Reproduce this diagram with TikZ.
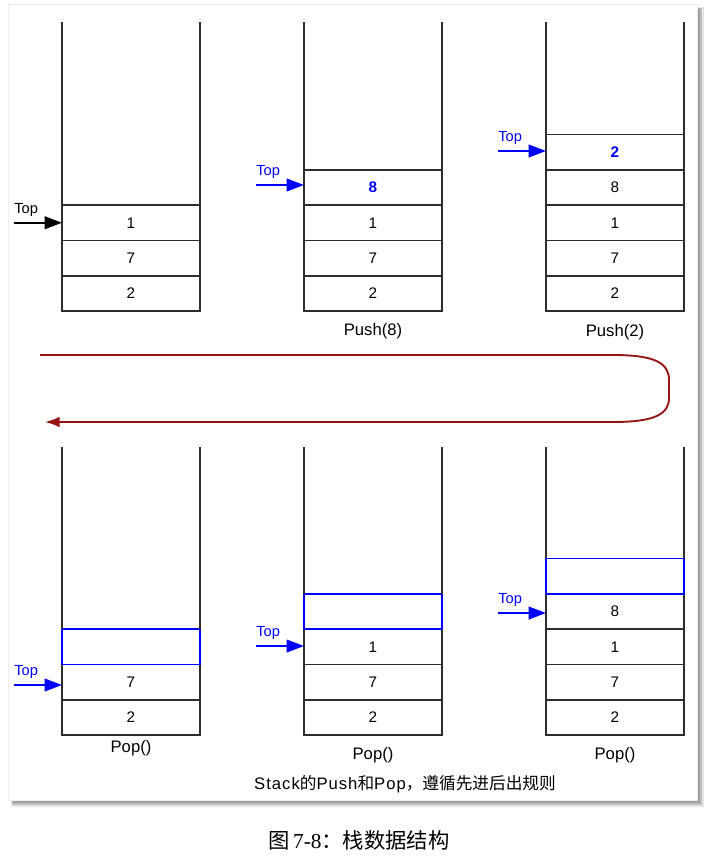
\documentclass[tikz,border=0pt]{standalone}
\usepackage{fontspec}
\setmainfont{Liberation Sans}
\newfontfamily\cjk{Noto Sans CJK SC}
\newfontfamily\capserif{Liberation Serif}
\usetikzlibrary{arrows.meta}
\definecolor{linegray}{RGB}{45,45,45}
\definecolor{loopred}{RGB}{150,20,20}
\definecolor{pureblue}{RGB}{0,0,255}
\begin{document}
\begin{tikzpicture}[x=0.75pt,y=-0.75pt,
  cell/.style={draw=linegray, line width=1.3pt, minimum width=103.5pt, minimum height=26.5pt,
    inner sep=0pt, outer sep=0pt, font=\fontsize{11.5}{13}\selectfont},
  popbox/.style={cell, draw=pureblue},
  hot/.style={text=pureblue, font=\fontsize{11.5}{13}\selectfont\bfseries},
  wall/.style={draw=linegray, line width=1.3pt},
  ptr/.style={-{Triangle[length=13pt,width=9.5pt]}, line width=1.3pt},
  toplbl/.style={anchor=south west, inner sep=0pt, font=\fontsize{11}{12}\selectfont},
  oplbl/.style={inner sep=0pt, font=\fontsize{12.5}{14}\selectfont}]
\useasboundingbox (0,0) rectangle (709,858);
% panel with shadow
\fill[black!10] (11,7) rectangle (704,807);
\fill[black!25] (12,8) rectangle (702,805);
\fill[black!38] (13,9) rectangle (700,803);
\fill[white, draw=black!7] (8,4) rectangle (697,800);

% ---------- top row ----------
% stack 1
\node[cell] (a1) at (131,293.35) {2};
\node[cell] (a2) at (131,258.05) {7};
\node[cell] (a3) at (131,222.75) {1};
\coordinate (a1l) at (62,22); \coordinate (a1r) at (200,22);
\draw[wall] (a1l) -- (a1l |- a3.north); \draw[wall] (a1r) -- (a1r |- a3.north);
\coordinate (ta) at (14,222.75);
\draw[ptr, black] (ta) -- (a3.west);
\node[toplbl] (tla) at (14,217) {Top};

% stack 2
\node[cell] (b1) at (373,293.35) {2};
\node[cell] (b2) at (373,258.05) {7};
\node[cell] (b3) at (373,222.75) {1};
\node[cell,hot] (b4) at (373,187.45) {8};
\coordinate (b1l) at (304,22); \coordinate (b1r) at (442,22);
\draw[wall] (b1l) -- (b1l |- b4.north); \draw[wall] (b1r) -- (b1r |- b4.north);
\coordinate (tb) at (256,185);
\draw[ptr, pureblue] (tb) -- (tb -| b4.west);
\node[toplbl, text=pureblue] (tlb) at (256,179) {Top};
\node[oplbl] (pb) at (373,331) {Push(8)};

% stack 3
\node[cell] (c1) at (615,293.35) {2};
\node[cell] (c2) at (615,258.05) {7};
\node[cell] (c3) at (615,222.75) {1};
\node[cell] (c4) at (615,187.45) {8};
\node[cell,hot] (c5) at (615,152.15) {2};
\coordinate (c1l) at (546,22); \coordinate (c1r) at (684,22);
\draw[wall] (c1l) -- (c1l |- c5.north); \draw[wall] (c1r) -- (c1r |- c5.north);
\coordinate (tc) at (498,151);
\draw[ptr, pureblue] (tc) -- (tc -| c5.west);
\node[toplbl, text=pureblue] (tlc) at (498,145) {Top};
\node[oplbl] (pc) at (615,332) {Push(2)};

% ---------- loop arrow ----------
\coordinate (ls) at (40,355);
\coordinate (le) at (45,422);
\draw[loopred, line width=1.4pt, -{Latex[length=11pt,width=8pt]}]
  (ls) -- (613,355) .. controls (655,355) and (669,363) .. (669,380)
  -- (669,398) .. controls (669,414) and (655,422) .. (613,422) -- (le);

% ---------- bottom row ----------
% stack 1
\node[cell] (d1) at (131,717.35) {2};
\node[cell] (d2) at (131,682.05) {7};
\node[popbox] (d3) at (131,646.75) {};
\coordinate (d1l) at (62,447); \coordinate (d1r) at (200,447);
\draw[wall] (d1l) -- (d1l |- d3.north); \draw[wall] (d1r) -- (d1r |- d3.north);
\coordinate (td) at (14,685);
\draw[ptr, pureblue] (td) -- (td -| d2.west);
\node[toplbl, text=pureblue] (tld) at (14,679) {Top};
\node[oplbl] (pd) at (131,748) {Pop()};

% stack 2
\node[cell] (e1) at (373,717.35) {2};
\node[cell] (e2) at (373,682.05) {7};
\node[cell] (e3) at (373,646.75) {1};
\node[popbox] (e4) at (373,611.45) {};
\coordinate (e1l) at (304,447); \coordinate (e1r) at (442,447);
\draw[wall] (e1l) -- (e1l |- e4.north); \draw[wall] (e1r) -- (e1r |- e4.north);
\coordinate (te) at (256,646);
\draw[ptr, pureblue] (te) -- (te -| e3.west);
\node[toplbl, text=pureblue] (tle) at (256,640) {Top};
\node[oplbl] (pe) at (373,755) {Pop()};

% stack 3
\node[cell] (f1) at (615,717.35) {2};
\node[cell] (f2) at (615,682.05) {7};
\node[cell] (f3) at (615,646.75) {1};
\node[cell] (f4) at (615,611.45) {8};
\node[popbox] (f5) at (615,576.15) {};
\coordinate (f1l) at (546,447); \coordinate (f1r) at (684,447);
\draw[wall] (f1l) -- (f1l |- f5.north); \draw[wall] (f1r) -- (f1r |- f5.north);
\coordinate (tf) at (498,613);
\draw[ptr, pureblue] (tf) -- (tf -| f4.west);
\node[toplbl, text=pureblue] (tlf) at (498,607) {Top};
\node[oplbl] (pf) at (615,755) {Pop()};

% captions
\node[inner sep=0pt, font=\fontsize{12.5}{14}\selectfont] (cap1) at (405,784)
  {{\addfontfeature{LetterSpace=6}Stack}{\cjk 的}{\addfontfeature{LetterSpace=6}Push}{\cjk 和}{\addfontfeature{LetterSpace=6}Pop}{\cjk ，遵循先进后出规则}};
\node[inner sep=0pt, font=\fontsize{16}{19}\selectfont] (cap2) at (359,840)
  {{\cjk 图}\,{\capserif 7-8}{\cjk ：栈数据结构}};
\end{tikzpicture}
\end{document}
